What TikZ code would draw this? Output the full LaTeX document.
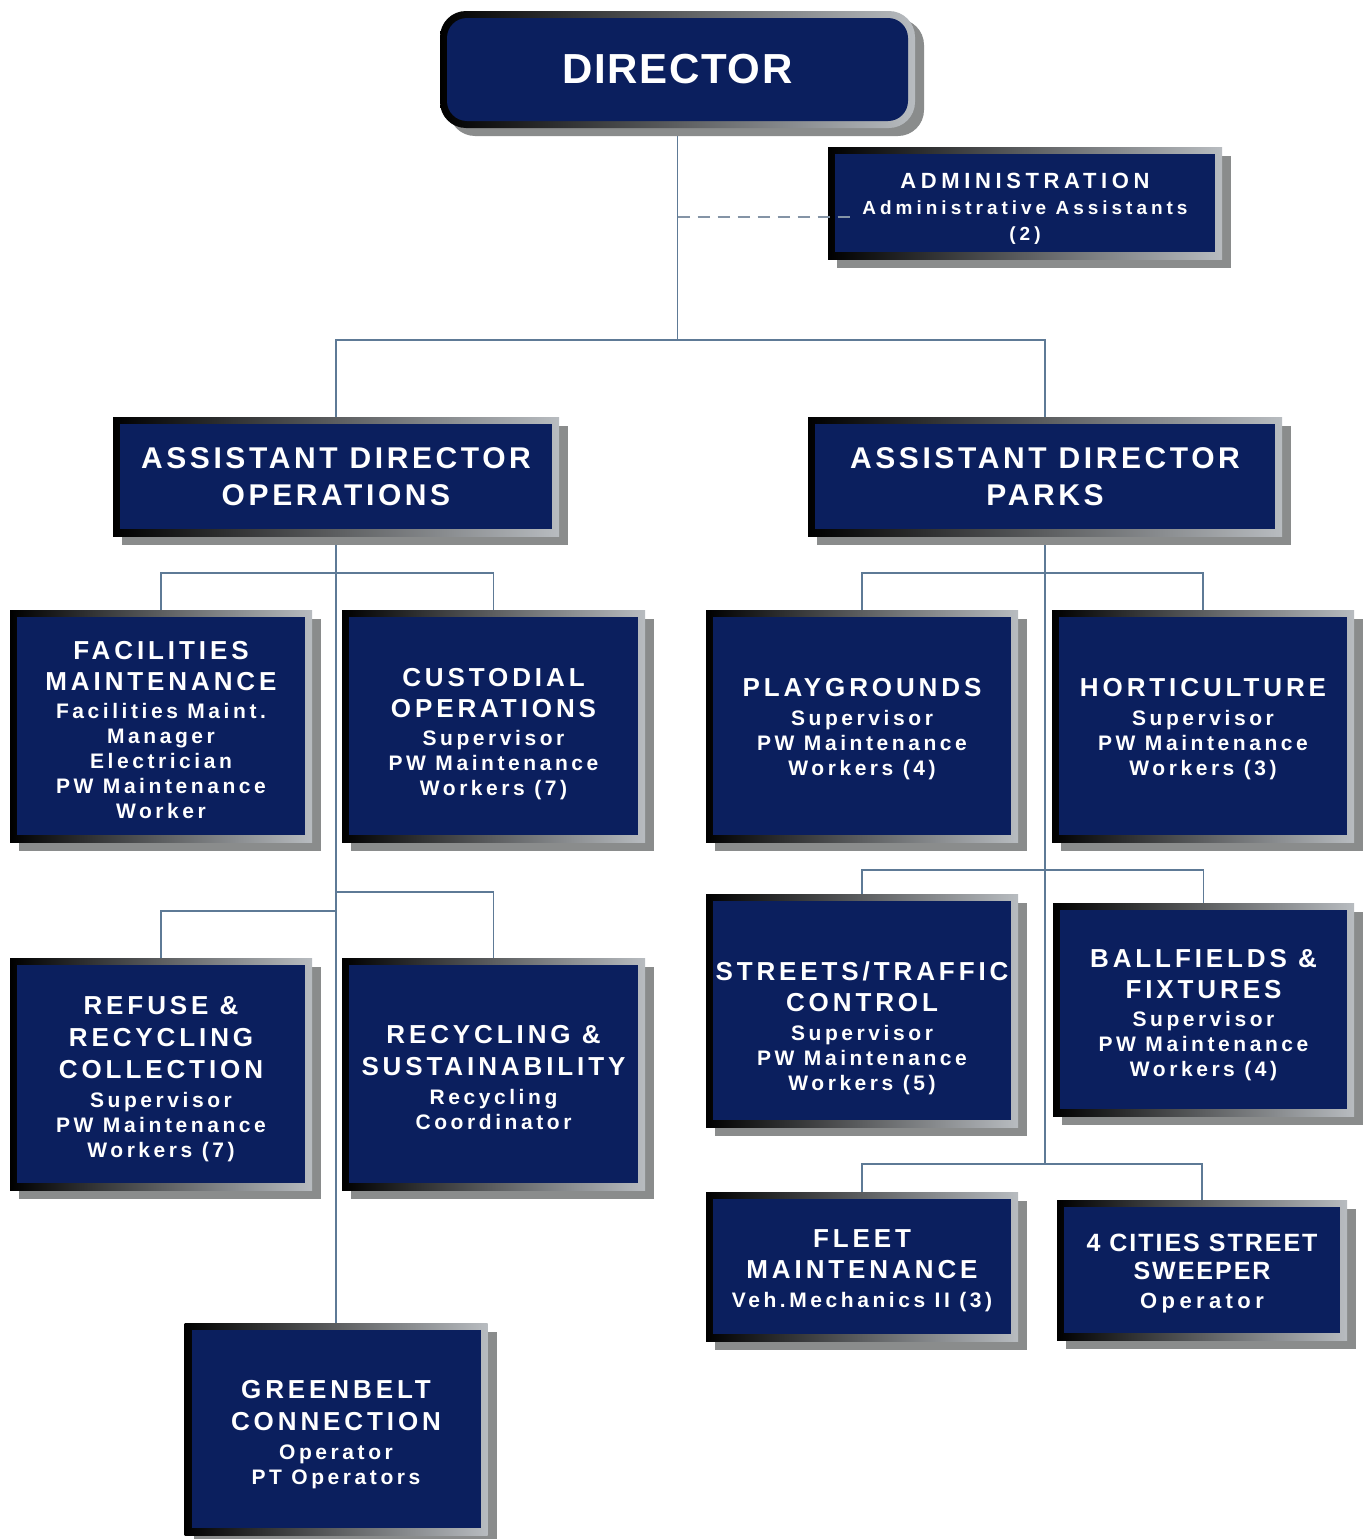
\documentclass[tikz,border=0pt]{standalone}
\usepackage{fontspec}
\setmainfont{Liberation Sans}
\newfontfamily\dirfam[LetterSpace=4]{Liberation Sans}
\newfontfamily\adfam[LetterSpace=12]{Liberation Sans}
\newfontfamily\admfam[LetterSpace=21]{Liberation Sans}
\newfontfamily\ttlfam[LetterSpace=15]{Liberation Sans}
\newfontfamily\ttlbfam[LetterSpace=8]{Liberation Sans}
\newfontfamily\sbtfam[LetterSpace=17]{Liberation Sans}
\newfontfamily\sbtbfam[LetterSpace=20]{Liberation Sans}
\usetikzlibrary{shadows}
\pgfdeclarelayer{bg}
\pgfsetlayers{bg,main}
\definecolor{navy}{HTML}{0B1F5E}
\definecolor{shd}{HTML}{8A8C8C}
\definecolor{frm}{HTML}{B8BCC0}
\definecolor{lnk}{HTML}{5E7A96}
\definecolor{dsh}{HTML}{8494A6}
\newcommand\dirf{\dirfam\bfseries\fontsize{42}{48}\selectfont}
\newcommand\adf{\adfam\bfseries\fontsize{30}{37}\selectfont}
\newcommand\admt{\admfam\bfseries\fontsize{22}{26}\selectfont}
\newcommand\adms{\admfam\bfseries\fontsize{19}{26}\selectfont}
\newcommand\ttl{\ttlfam\bfseries\fontsize{26}{31}\selectfont}
\newcommand\ttlb{\ttlbfam\bfseries\fontsize{25}{27}\selectfont}
\newcommand\sbt{\sbtfam\bfseries\fontsize{21}{25}\selectfont}
\newcommand\sbtb{\sbtbfam\bfseries\fontsize{22}{27}\selectfont}
\newcommand\dn[1]{\rule{0pt}{#1pt}}
\tikzset{
  orgbox/.style={shape=rectangle, inner sep=0pt, outer sep=0pt,
    left color=black, right color=frm, text=white, align=center,
    general shadow={fill=shd, shadow xshift=9pt, shadow yshift=-9pt},
    path picture={\fill[navy] ([shift={(7pt,7pt)}]path picture bounding box.south west)
      rectangle ([shift={(-7pt,-7pt)}]path picture bounding box.north east);},
    font=\sbt},
  dirbox/.style={shape=rectangle, inner sep=0pt, outer sep=0pt, rounded corners=26pt,
    left color=black, right color=frm, text=white, align=center,
    general shadow={fill=shd, shadow xshift=9pt, shadow yshift=-8pt},
    path picture={\fill[navy, rounded corners=20pt] ([shift={(7pt,7pt)}]path picture bounding box.south west)
      rectangle ([shift={(-7pt,-7pt)}]path picture bounding box.north east);},
    font=\dirf},
  conn/.style={draw=lnk, line width=1.6pt},
  dashconn/.style={draw=dsh, line width=2pt, dash pattern=on 12pt off 8pt}
}
\begin{document}
\begin{tikzpicture}[x=1pt,y=-1pt]
\useasboundingbox (0,0) rectangle (1363,1539);
% boxes
\node[dirbox, minimum width=475pt, minimum height=117pt] (dir) at (677.5,69.5) {DIRECTOR};
\node[orgbox, minimum width=394pt, minimum height=112pt, font=\adms] (admin) at (1025,203)
  {\dn{26}{\admt ADMINISTRATION}\\Administrative Assistants\\(2)};
\node[orgbox, minimum width=446pt, minimum height=119pt, font=\adf] (adops) at (336,476.5)
  {ASSISTANT DIRECTOR\\OPERATIONS};
\node[orgbox, minimum width=474pt, minimum height=119pt, font=\adf] (adparks) at (1045,476.5)
  {ASSISTANT DIRECTOR\\PARKS};
\node[orgbox, minimum width=302pt, minimum height=232pt] (fac) at (161,726)
  {\dn{27}{\ttl FACILITIES}\\[6pt]{\ttl MAINTENANCE}\\[3pt]Facilities Maint.\\Manager\\Electrician\\PW Maintenance\\Worker};
\node[orgbox, minimum width=303pt, minimum height=232pt] (cust) at (493.5,726)
  {\dn{35}{\ttl CUSTODIAL}\\[6pt]{\ttl OPERATIONS}\\[3pt]Supervisor\\PW Maintenance\\Workers (7)};
\node[orgbox, minimum width=312pt, minimum height=232pt] (play) at (862,726)
  {\dn{25}{\ttl PLAYGROUNDS}\\[4pt]Supervisor\\PW Maintenance\\Workers (4)};
\node[orgbox, minimum width=302pt, minimum height=232pt] (hort) at (1203,726)
  {\dn{25}{\ttl HORTICULTURE}\\[4pt]Supervisor\\PW Maintenance\\Workers (3)};
\node[orgbox, minimum width=302pt, minimum height=232pt] (refuse) at (161,1074)
  {\dn{29}{\ttl REFUSE \&}\\[7pt]{\ttl RECYCLING}\\[7pt]{\ttl COLLECTION}\\[4pt]Supervisor\\PW Maintenance\\Workers (7)};
\node[orgbox, minimum width=303pt, minimum height=232pt] (recyc) at (493.5,1074)
  {\dn{25}{\ttl RECYCLING \&}\\[7pt]{\ttl SUSTAINABILITY}\\[4pt]Recycling\\Coordinator};
\node[orgbox, minimum width=312pt, minimum height=233pt] (streets) at (862,1010.5)
  {\dn{55}{\ttl STREETS/TRAFFIC}\\[6pt]{\ttl CONTROL}\\[4pt]Supervisor\\PW Maintenance\\Workers (5)};
\node[orgbox, minimum width=301pt, minimum height=213pt] (ball) at (1203.5,1009.5)
  {\dn{29}{\ttl BALLFIELDS \&}\\[6pt]{\ttl FIXTURES}\\[3pt]Supervisor\\PW Maintenance\\Workers (4)};
\node[orgbox, minimum width=312pt, minimum height=149pt] (fleet) at (862,1266.5)
  {\dn{27}{\ttl FLEET}\\[6pt]{\ttl MAINTENANCE}\\[4pt]Veh.Mechanics II (3)};
\node[orgbox, minimum width=290pt, minimum height=140pt, font=\sbtb] (cities) at (1202,1270)
  {\dn{25}{\ttlb 4 CITIES STREET}\\[1pt]{\ttlb SWEEPER}\\[2pt]Operator};
\node[orgbox, minimum width=303pt, minimum height=212pt] (green) at (336,1429)
  {\dn{29}{\ttl GREENBELT}\\[7pt]{\ttl CONNECTION}\\[4pt]Operator\\PT Operators};
% junctions
\coordinate (j0) at (677.5,340);
\coordinate (jd) at (677.5,217);
\coordinate (o1) at (336,573);
\coordinate (o2) at (336,892);
\coordinate (o3) at (336,911);
\coordinate (p1) at (1045,573);
\coordinate (p2) at (1045,870);
\coordinate (p3) at (1045,1164);
\begin{pgfonlayer}{bg}
  \fill[white] (0,0) rectangle (1363,1539);
  \draw[conn] (dir.south) -- (j0);
  \draw[conn] (adops.north) |- (j0) -| (adparks.north);
  \draw[conn] (adops.south) -- (green.north);
  \draw[conn] (fac.north) |- (o1) -| (cust.north);
  \draw[conn] (o2) -| (recyc.north);
  \draw[conn] (o3) -| (refuse.north);
  \draw[conn] (adparks.south) -- (p3);
  \draw[conn] (play.north) |- (p1) -| (hort.north);
  \draw[conn] (streets.north) |- (p2) -| (ball.north);
  \draw[conn] (fleet.north) |- (p3) -| (cities.north);
\end{pgfonlayer}
\draw[dashconn] (jd) -- ([xshift=28pt]jd -| admin.west);
\end{tikzpicture}
\end{document}
